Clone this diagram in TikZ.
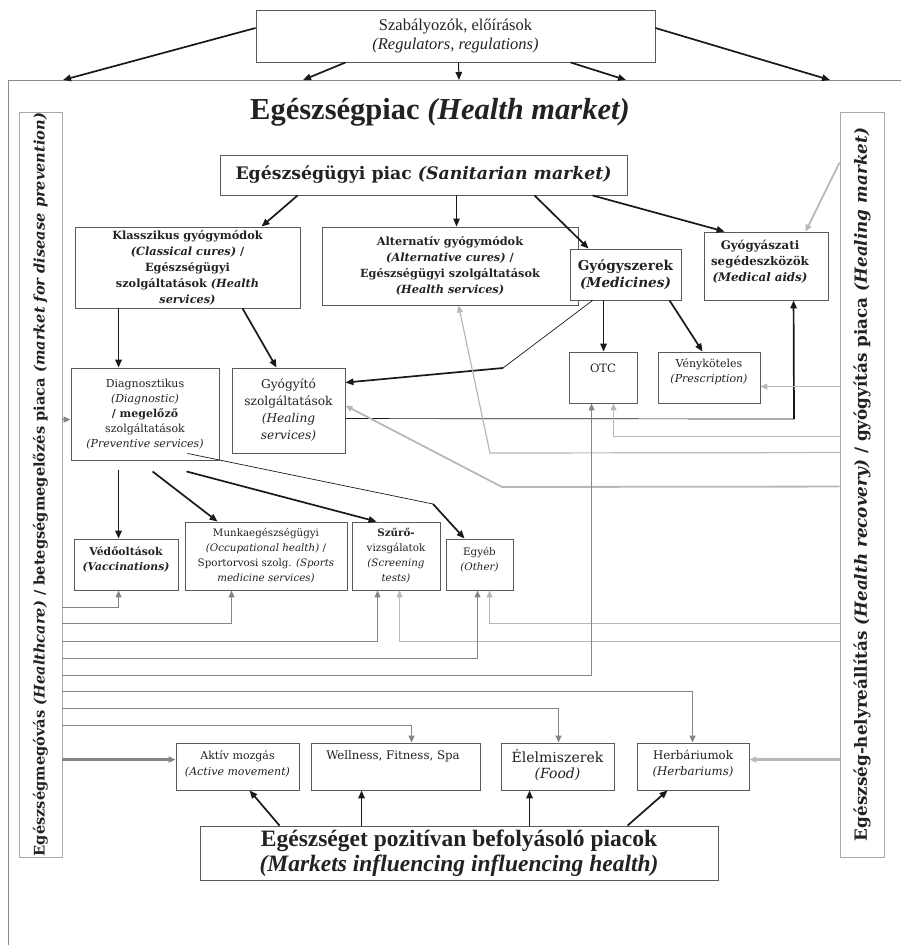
\documentclass[tikz,border=0pt]{standalone}
\usepackage{fontspec}
\setmainfont{DejaVu Serif}
\newfontfamily\tms{Liberation Serif}
\usetikzlibrary{arrows.meta,calc}
\definecolor{dgray}{HTML}{858585}
\definecolor{lgray}{HTML}{B8B8B8}
\definecolor{bord}{HTML}{5A5A5A}
\definecolor{pbord}{HTML}{AAAAAA}
\definecolor{txt}{HTML}{222222}
\tikzset{
 box/.style={draw=bord, line width=0.9pt, fill=white, inner sep=0pt, align=center, text=txt},
 panel/.style={draw=pbord, line width=0.9pt, fill=white, inner sep=0pt},
 blk/.style={draw=black!90, line width=1.7pt, -{Triangle[length=8pt,width=6.5pt]}},
 thinl/.style={draw=black!90, line width=0.7pt},
 lg/.style={draw=lgray, line width=1.2pt, -{Triangle[length=7pt,width=6pt]}},
 dg/.style={draw=dgray, line width=1.2pt, -{Triangle[length=7pt,width=6pt]}},
 lbl/.style={inner sep=0pt, align=center, text=txt},
}
\begin{document}
\begin{tikzpicture}[x=1pt,y=-1pt]
\useasboundingbox (0,0) rectangle (901,945);
% frame
\draw[draw=pbord!80!black, line width=0.9pt] (901,80) -- (8,80) -- (8,945);
\coordinate (fa) at (63,80);
\coordinate (fb) at (303,80);
\coordinate (fc) at (459,80);
\coordinate (fd) at (626,80);
\coordinate (fe) at (830,80);
% top box
\node[box, minimum width=399pt, minimum height=52pt, font=\tms\fontsize{16.5}{19.5}\selectfont] (reg) at (455.5,36) {Szabályozók, előírások\\\textit{(Regulators, regulations)}};
\draw[blk] ($(reg.west)+(0,-8)$) -- (fa);
\draw[blk] ($(reg.south west)+(90,0)$) -- (fb);
\draw[blk, line width=1pt] ($(reg.south west)+(203,0)$) -- (fc);
\draw[blk] ($(reg.south west)+(315,0)$) -- (fd);
\draw[blk] ($(reg.east)+(0,-8)$) -- (fe);
% title
\node[lbl, font=\tms\bfseries\fontsize{30.5}{33}\selectfont] (title) at (440,112) {Egészségpiac \textit{(Health market)}};
% side panels
\node[panel, minimum width=43pt, minimum height=745pt] (lp) at (40.5,484.5) {};
\node[lbl, rotate=90, font=\bfseries\fontsize{14.6}{16}\selectfont] (lpt) at (40.5,484.5) {Egészségmegóvás \textit{(Healthcare)} / betegségmegelőzés piaca \textit{(market for disease prevention)}};
\node[panel, minimum width=44pt, minimum height=745pt] (rp) at (862,484.5) {};
\node[lbl, rotate=90, font=\bfseries\fontsize{16.8}{18}\selectfont] (rpt) at (862,484.5) {Egészség-helyreállítás \textit{(Health recovery)} / gyógyítás piaca \textit{(Healing market)}};
% boxes
\node[box, minimum width=407pt, minimum height=40pt, font=\bfseries\fontsize{17.3}{20}\selectfont] (san) at (423.5,175) {Egészségügyi piac \textit{(Sanitarian market)}};
\node[box, minimum width=225pt, minimum height=81pt, font=\bfseries\fontsize{11.3}{16}\selectfont] (klass) at (187.5,267.5) {Klasszikus gyógymódok\\\textit{(Classical cures)} /\\Egészségügyi\\szolgáltatások \textit{(Health}\\\textit{services)}};
\node[box, minimum width=256pt, minimum height=78pt, font=\bfseries\fontsize{11.3}{16}\selectfont] (alt) at (450,266) {Alternatív gyógymódok\\\textit{(Alternative cures)} /\\Egészségügyi szolgáltatások\\\textit{(Health services)}};
\node[box, minimum width=111pt, minimum height=51pt, font=\bfseries\fontsize{13.6}{17}\selectfont] (med) at (625.5,274.5) {Gyógyszerek\\\textit{(Medicines)}};
\node[box, minimum width=124pt, minimum height=68pt] (aids) at (766,266) {};
\node[lbl, font=\bfseries\fontsize{11.8}{16}\selectfont] (aidst) at (760,262) {Gyógyászati\\segédeszközök\\\textit{(Medical aids)}};
\node[box, minimum width=148pt, minimum height=92pt, font=\fontsize{11}{15}\selectfont] (diag) at (145,414) {Diagnosztikus\\\textit{(Diagnostic)}\\\textbf{/ megelőző}\\szolgáltatások\\\textit{(Preventive services)}};
\node[box, minimum width=113pt, minimum height=85pt, font=\fontsize{12.2}{17}\selectfont] (heal) at (288.5,410.5) {Gyógyító\\szolgáltatások\\\textit{(Healing}\\\textit{services)}};
\node[box, minimum width=68pt, minimum height=51pt] (otc) at (603,377.5) {};
\node[lbl, font=\fontsize{11.5}{14}\selectfont] (otct) at (603,368) {OTC};
\node[box, minimum width=102pt, minimum height=51pt] (presc) at (709,377.5) {};
\node[lbl, font=\fontsize{11}{15}\selectfont] (presct) at (709,371.5) {Vényköteles\\\textit{(Prescription)}};
\node[box, minimum width=104pt, minimum height=51pt] (vacc) at (126,564.5) {};
\node[lbl, font=\bfseries\fontsize{10.8}{15}\selectfont] (vacct) at (126,559.5) {Védőoltások\\\textit{(Vaccinations)}};
\node[box, minimum width=162pt, minimum height=68pt, font=\fontsize{10.3}{15}\selectfont] (occ) at (266,556) {Munkaegészségügyi\\\textit{(Occupational health)} /\\Sportorvosi szolg. \textit{(Sports}\\\textit{medicine services)}};
\node[box, minimum width=88pt, minimum height=68pt, font=\fontsize{10.3}{15}\selectfont] (scr) at (396,556) {\textbf{Szűrő-}\\vizsgálatok\\\textit{(Screening}\\\textit{tests)}};
\node[box, minimum width=67pt, minimum height=51pt] (oth) at (479.5,564.5) {};
\node[lbl, font=\fontsize{10.3}{15}\selectfont] (otht) at (479.5,559.5) {Egyéb\\\textit{(Other)}};
\node[box, minimum width=123pt, minimum height=47pt] (act) at (237.5,766.5) {};
\node[lbl, font=\fontsize{11}{16}\selectfont] (actt) at (237.5,763.5) {Aktív mozgás\\\textit{(Active movement)}};
\node[box, minimum width=169pt, minimum height=47pt] (well) at (395.5,766.5) {};
\node[lbl, font=\fontsize{11.8}{14}\selectfont] (wellt) at (393,756) {Wellness, Fitness, Spa};
\node[box, minimum width=113pt, minimum height=47pt] (food) at (557.5,766.5) {};
\node[lbl, font=\fontsize{14}{16}\selectfont] (foodt) at (557.5,765.5) {Élelmiszerek\\\textit{(Food)}};
\node[box, minimum width=112pt, minimum height=47pt] (herb) at (693,766.5) {};
\node[lbl, font=\fontsize{11.8}{16}\selectfont] (herbt) at (693,763.5) {Herbáriumok\\\textit{(Herbariums)}};
\node[box, minimum width=518pt, minimum height=54pt, font=\tms\bfseries\fontsize{23.5}{25.5}\selectfont] (mkt) at (459,853) {Egészséget pozitívan befolyásoló piacok\\\textit{(Markets influencing influencing health)}};
% black connectors
\draw[blk] ($(san.south west)+(78,0)$) -- ($(klass.north west)+(187,0)$);
\draw[blk, line width=1.2pt] ($(san.south west)+(237,0)$) -- ($(alt.north west)+(135,0)$);
\draw[blk] ($(san.south west)+(315,0)$) -- ($(med.north west)+(19,0)$);
\draw[blk] ($(san.south west)+(373,0)$) -- ($(aids.north west)+(21,0)$);
\draw[blk] ($(klass.south west)+(44,0)$) -- ($(diag.north west)+(48,0)$);
\draw[blk] ($(klass.south west)+(168,0)$) -- ($(heal.north west)+(45,0)$);
\draw[blk] ($(med.south west)+(34,0)$) -- ($(otc.north west)+(35,0)$);
\draw[blk] ($(med.south west)+(100,0)$) -- ($(presc.north west)+(45,0)$);
\coordinate (m3) at (503,368);
\draw[thinl] ($(med.south west)+(23,0)$) -- (m3);
\draw[blk] (m3) -- ($(heal.north east)+(0,15)$);
\coordinate (h1) at (794,419);
\draw[thinl] ($(heal.north east)+(0,51)$) -- (h1);
\draw[blk] (h1) -- ($(aids.south west)+(90,0)$);
\draw[blk] ($(diag.south west)+(48,10)$) -- ($(vacc.north west)+(45,0)$);
\draw[blk] ($(diag.south west)+(82,11)$) -- ($(occ.north west)+(33,0)$);
\draw[blk] ($(diag.south west)+(116,11)$) -- ($(scr.north west)+(25,0)$);
\coordinate (d4) at (433,504);
\draw[thinl] ($(diag.south west)+(117,-7)$) -- (d4);
\draw[blk] (d4) -- ($(oth.north west)+(19,0)$);
% bottom market arrows
\draw[blk] ($(mkt.north west)+(80,0)$) -- ($(act.south west)+(74,0)$);
\draw[blk] ($(mkt.north west)+(162,0)$) -- ($(well.south west)+(51,0)$);
\draw[blk] ($(mkt.north west)+(330,0)$) -- ($(food.south west)+(29,0)$);
\draw[blk] ($(mkt.north west)+(428,0)$) -- ($(herb.south west)+(31,0)$);
% right side gray connectors
\draw[lg, line width=1.8pt] ($(rp.north west)+(0,51)$) -- ($(aids.north west)+(102,0)$);
\draw[lg] ($(rp.north west)+(0,275)$) -- ($(presc.north east)+(0,35)$);
\draw[lg] ($(rp.north west)+(0,325)$) -| ($(otc.south west)+(45,0)$);
\coordinate (gd) at (490,453);
\draw[lg] ($(rp.north west)+(0,341)$) -- (gd) -- ($(alt.south west)+(137,0)$);
\coordinate (ge) at (502,487);
\draw[lg, line width=1.8pt] ($(rp.north west)+(0,375)$) -- (ge) -- ($(heal.north east)+(0,38)$);
\draw[lg] ($(rp.north west)+(0,512)$) -| ($(oth.south west)+(44,0)$);
\draw[lg] ($(rp.north west)+(0,530)$) -| ($(scr.south west)+(48,0)$);
\draw[lg, line width=2.4pt] ($(rp.north west)+(0,648)$) -- ($(herb.north east)+(0,17)$);
% left side gray connectors
\draw[dg] ($(lp.north east)+(0,308)$) -- ($(diag.north west)+(0,52)$);
\draw[dg] ($(lp.north east)+(0,496)$) -| ($(vacc.south west)+(45,0)$);
\draw[dg] ($(lp.north east)+(0,512)$) -| ($(occ.south west)+(47,0)$);
\draw[dg] ($(lp.north east)+(0,530)$) -| ($(scr.south west)+(26,0)$);
\draw[dg] ($(lp.north east)+(0,547)$) -| ($(oth.south west)+(32,0)$);
\draw[dg] ($(lp.north east)+(0,564)$) -| ($(otc.south west)+(23,0)$);
\draw[dg] ($(lp.north east)+(0,580)$) -| ($(herb.north west)+(56,0)$);
\draw[dg] ($(lp.north east)+(0,597)$) -| ($(food.north west)+(58,0)$);
\draw[dg] ($(lp.north east)+(0,614)$) -| ($(well.north west)+(101,0)$);
\draw[dg, line width=2.4pt] ($(lp.north east)+(0,648)$) -- ($(act.north west)+(0,17)$);
\end{tikzpicture}
\end{document}
